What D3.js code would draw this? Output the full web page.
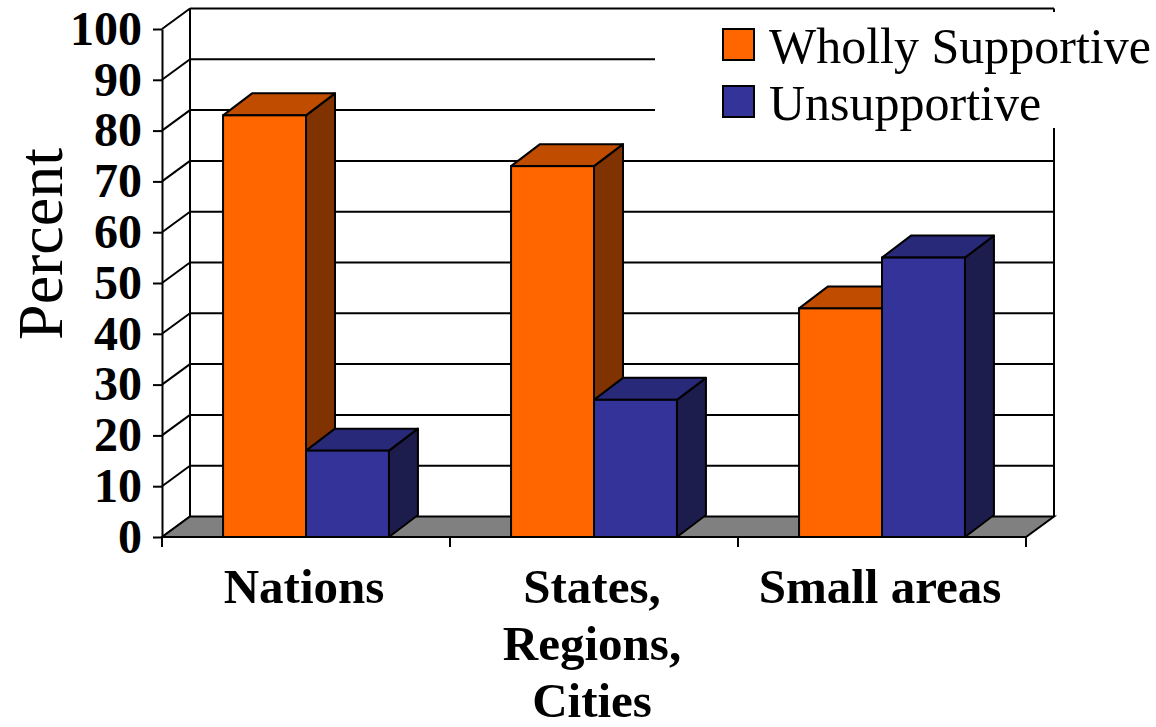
<!DOCTYPE html>
<html>
<head>
<meta charset="utf-8">
<script src="https://cdn.jsdelivr.net/npm/d3@7"></script>
<style>
  html, body { margin: 0; padding: 0; background: #fff; }
  svg { display: block; }
</style>
</head>
<body>
<svg id="chart" width="1156" height="727"></svg>
<script>
// Survey responses by geographic level
const categories = ["Nations", "States, Regions, Cities", "Small areas"];
const categoryLines = [["Nations"], ["States,", "Regions,", "Cities"], ["Small areas"]];
const seriesNames = ["Wholly Supportive", "Unsupportive"];
const whollySupportive = [83, 73, 45];
const unsupportive = [17, 27, 55];
const yTicks = [0, 10, 20, 30, 40, 50, 60, 70, 80, 90, 100];

const seriesValues = [whollySupportive, unsupportive];
const faceColors = [
  { front: "#FF6600", top: "#C04C00", side: "#803300" },
  { front: "#333399", top: "#29297A", side: "#1C1C4D" }
];

const svg = d3.select("#chart");
const serif = "'Liberation Serif', 'Times New Roman', Times, serif";

// Plot frame (front plane) and oblique depth offsets
const plotLeft = 162, plotRight = 1026, plotBottom = 537, plotTop = 29;
const wallDx = 28, wallDy = -20.5;
const barDx = 29, barDy = -22;

const y = d3.scaleLinear().domain([0, 100]).range([plotBottom, plotTop]);
const x0 = d3.scaleBand().domain(categories).range([plotLeft, plotRight])
  .paddingInner(0.424).paddingOuter(0.212);
const x1 = d3.scaleBand().domain(seriesNames).range([0, x0.bandwidth()]);

const stroke = "#000", sw = 2;

// Back wall: gridlines and vertical edges
const wall = svg.append("g");
wall.selectAll("line.grid").data(yTicks.filter(d => d > 0)).join("line")
  .attr("x1", plotLeft + wallDx).attr("x2", plotRight + wallDx)
  .attr("y1", d => y(d) + wallDy).attr("y2", d => y(d) + wallDy)
  .attr("stroke", stroke).attr("stroke-width", sw);
wall.append("line")
  .attr("x1", plotLeft + wallDx).attr("x2", plotLeft + wallDx)
  .attr("y1", y(100) + wallDy).attr("y2", y(0) + wallDy)
  .attr("stroke", stroke).attr("stroke-width", sw);
wall.append("line")
  .attr("x1", plotRight + wallDx).attr("x2", plotRight + wallDx)
  .attr("y1", y(100) + wallDy).attr("y2", y(0) + wallDy)
  .attr("stroke", stroke).attr("stroke-width", sw);

// Side wall diagonals from each front tick to the back wall
wall.selectAll("line.diag").data(yTicks).join("line")
  .attr("x1", plotLeft).attr("x2", plotLeft + wallDx)
  .attr("y1", d => y(d)).attr("y2", d => y(d) + wallDy)
  .attr("stroke", stroke).attr("stroke-width", sw);

// Floor
svg.append("polygon")
  .attr("points", [
    [plotLeft, y(0)], [plotLeft + wallDx, y(0) + wallDy],
    [plotRight + wallDx, y(0) + wallDy], [plotRight, y(0)]
  ].map(p => p.join(",")).join(" "))
  .attr("fill", "#808080").attr("stroke", stroke).attr("stroke-width", sw)
  .attr("stroke-linejoin", "miter");

// Legend box (white background hides the wall behind it)
const legend = svg.append("g");
legend.append("rect").attr("x", 655).attr("y", 12).attr("width", 501).attr("height", 116)
  .attr("fill", "#fff");
const legItems = legend.selectAll("g.item").data(seriesNames).join("g")
  .attr("transform", (d, i) => `translate(723, ${29 + i * 57})`);
legItems.append("rect").attr("width", 31).attr("height", 31)
  .attr("fill", (d, i) => faceColors[i].front)
  .attr("stroke", stroke).attr("stroke-width", 2);
legItems.append("text").attr("x", 46).attr("y", 34)
  .attr("font-family", serif).attr("font-size", 50).attr("fill", "#000")
  .text(d => d);

// Bars
const bars = [];
categories.forEach((c, ci) => {
  seriesNames.forEach((s, si) => {
    bars.push({ c, s, si, v: seriesValues[si][ci] });
  });
});

const barG = svg.append("g").selectAll("g").data(bars).join("g");
barG.each(function (d) {
  const g = d3.select(this);
  const xa = x0(d.c) + x1(d.s), w = x1.bandwidth();
  const yt = y(d.v), yb = y(0);
  const col = faceColors[d.si];
  const pts = a => a.map(p => p.join(",")).join(" ");
  g.append("polygon")
    .attr("points", pts([[xa + w, yt], [xa + w + barDx, yt + barDy], [xa + w + barDx, yb + barDy], [xa + w, yb]]))
    .attr("fill", col.side).attr("stroke", stroke).attr("stroke-width", sw).attr("stroke-linejoin", "round");
  g.append("polygon")
    .attr("points", pts([[xa, yt], [xa + barDx, yt + barDy], [xa + w + barDx, yt + barDy], [xa + w, yt]]))
    .attr("fill", col.top).attr("stroke", stroke).attr("stroke-width", sw).attr("stroke-linejoin", "round");
  g.append("rect")
    .attr("x", xa).attr("y", yt).attr("width", w).attr("height", yb - yt)
    .attr("fill", col.front).attr("stroke", stroke).attr("stroke-width", sw);
});

// Value axis (front)
const yAxis = svg.append("g").attr("transform", `translate(${plotLeft},0)`)
  .call(d3.axisLeft(y).tickValues(yTicks).tickSize(9).tickSizeOuter(0).tickPadding(11));
yAxis.select(".domain").attr("stroke", stroke).attr("stroke-width", sw);
yAxis.selectAll(".tick line").attr("stroke", stroke).attr("stroke-width", sw);
yAxis.selectAll(".tick text")
  .attr("font-family", serif).attr("font-size", 48).attr("font-weight", "bold").attr("fill", "#000");

// Category axis: front edge and separator ticks
const boundaries = d3.range(categories.length + 1).map(i => plotLeft + i * x0.step());
svg.append("line").attr("x1", plotLeft).attr("x2", plotRight).attr("y1", plotBottom).attr("y2", plotBottom)
  .attr("stroke", stroke).attr("stroke-width", sw);
svg.selectAll("line.xtick").data(boundaries).join("line")
  .attr("x1", d => d).attr("x2", d => d).attr("y1", plotBottom).attr("y2", plotBottom + 10)
  .attr("stroke", stroke).attr("stroke-width", sw);

// Category labels
const xLabels = svg.append("g").selectAll("text").data(categories).join("text")
  .attr("x", d => x0(d) + x0.bandwidth() / 2 - 2)
  .attr("y", 603)
  .attr("text-anchor", "middle")
  .attr("font-family", serif).attr("font-size", 49).attr("font-weight", "bold").attr("fill", "#000");
xLabels.each(function (d, i) {
  const t = d3.select(this);
  categoryLines[i].forEach((line, li) => {
    t.append("tspan").attr("x", x0(d) + x0.bandwidth() / 2 - 2).attr("dy", li === 0 ? 0 : 57).text(line);
  });
});

// Axis title
svg.append("text")
  .attr("transform", "translate(62,244) rotate(-90)")
  .attr("text-anchor", "middle")
  .attr("font-family", serif).attr("font-size", 64).attr("fill", "#000")
  .text("Percent");
</script>
</body>
</html>
